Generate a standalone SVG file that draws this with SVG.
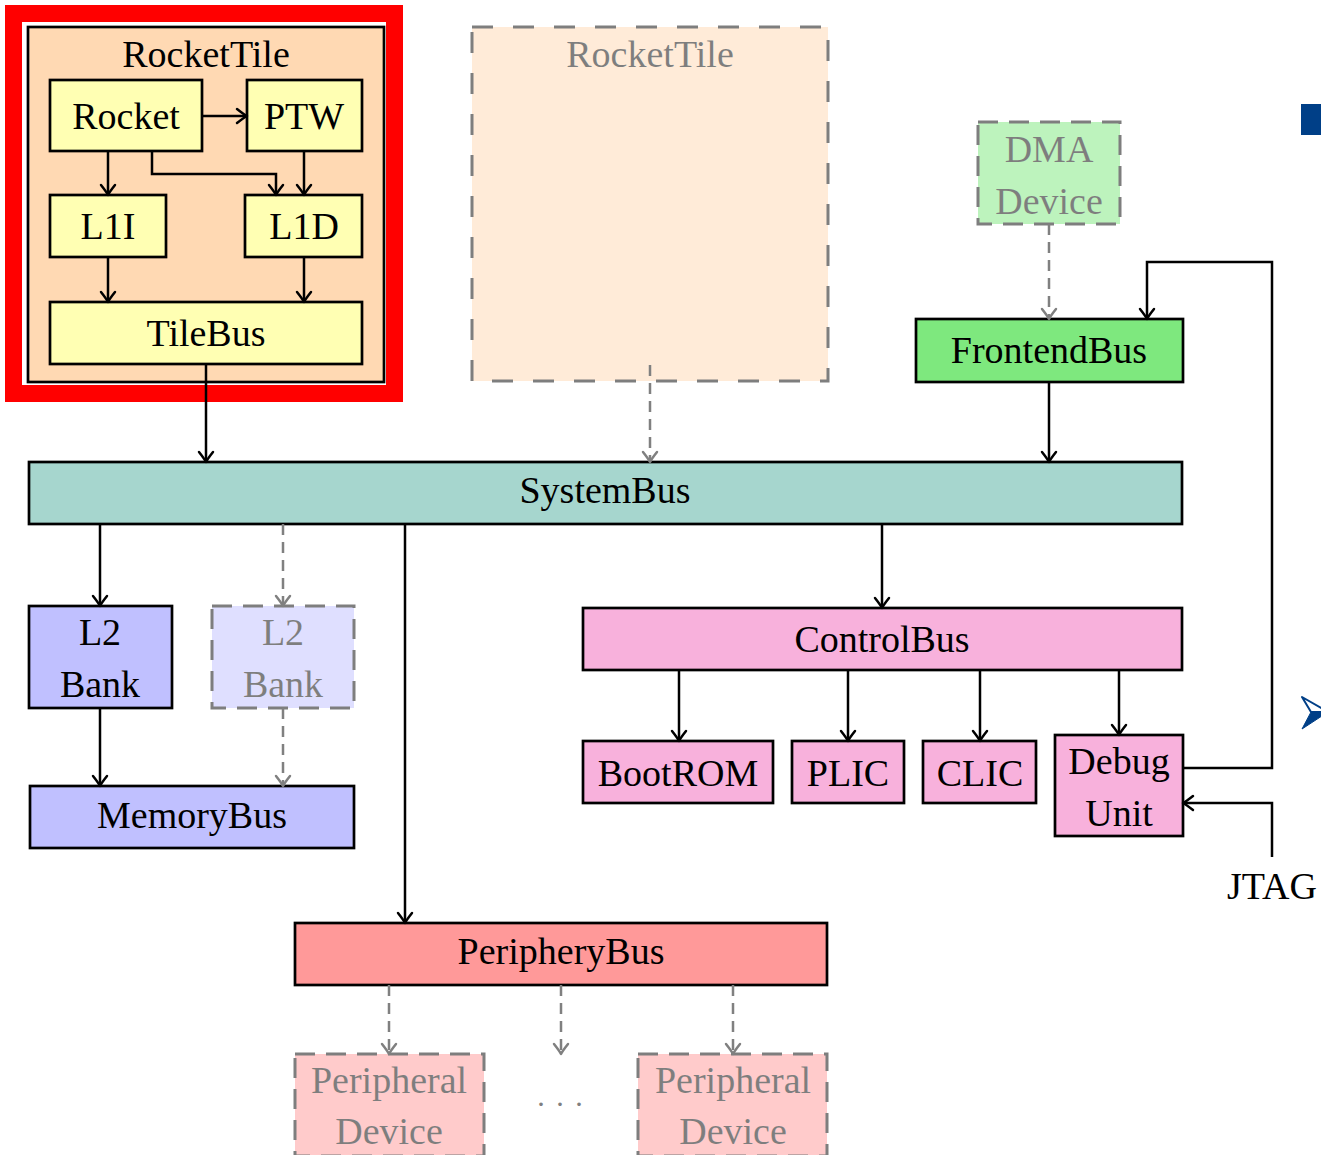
<svg xmlns="http://www.w3.org/2000/svg" width="1321" height="1155" viewBox="0 0 1321 1155">
<style>
.box{stroke:#000;stroke-width:2.7}
.gbox{stroke:#000;stroke-width:3;stroke-dasharray:20 11}
.ghost{opacity:0.5}
.t{font-family:"Liberation Serif","DejaVu Serif",serif;font-size:38px;text-anchor:middle;fill:#000}
.c{stroke:#000;stroke-width:2.5;fill:none;marker-end:url(#ah)}
.cd{stroke:#808080;stroke-width:2.5;fill:none;stroke-dasharray:11 7;marker-end:url(#ahg)}
.yel{fill:#FFFFB3}
</style>
<defs>
<marker id="ah" markerUnits="userSpaceOnUse" markerWidth="24" markerHeight="24" viewBox="-12 -12 24 24" refX="0" refY="0" orient="auto" overflow="visible">
<path d="M-10,-7 Q-3,-1.5 0,0 Q-3,1.5 -10,7" fill="none" stroke="#000" stroke-width="2.5" stroke-linecap="round" stroke-linejoin="round"/>
</marker>
<marker id="ahg" markerUnits="userSpaceOnUse" markerWidth="24" markerHeight="24" viewBox="-12 -12 24 24" refX="0" refY="0" orient="auto" overflow="visible">
<path d="M-10,-7 Q-3,-1.5 0,0 Q-3,1.5 -10,7" fill="none" stroke="#808080" stroke-width="2.5" stroke-linecap="round" stroke-linejoin="round"/>
</marker>
</defs>
<rect width="1321" height="1155" fill="#fff"/>

<!-- highlight frame -->
<rect x="13.5" y="13.5" width="381" height="380" fill="none" stroke="#FF0000" stroke-width="17"/>

<!-- slide decorations -->
<rect x="1301" y="104" width="20" height="31" fill="#003F87"/>
<polygon points="1302,697 1328,712 1311,712" fill="#fff" stroke="#003F87" stroke-width="2" stroke-linejoin="round"/>
<polygon points="1311,712 1328,712 1302,729" fill="#003F87" stroke="#003F87" stroke-width="1" stroke-linejoin="round"/>

<g id="rockettile">
<rect class="box" x="28" y="27" width="356" height="355" fill="#FFD9B3"/>
<text class="t" x="206" y="67">RocketTile</text>
</g>
<g id="rocket"><rect class="box yel" x="50" y="80" width="152" height="71"/><text class="t" x="126" y="129">Rocket</text></g>
<g id="ptw"><rect class="box yel" x="247" y="80" width="115" height="71"/><text class="t" x="304" y="129">PTW</text></g>
<g id="l1i"><rect class="box yel" x="50" y="195" width="116" height="62"/><text class="t" x="108" y="239">L1I</text></g>
<g id="l1d"><rect class="box yel" x="245" y="195" width="117" height="62"/><text class="t" x="304" y="239">L1D</text></g>
<g id="tilebus"><rect class="box yel" x="50" y="302" width="312" height="62"/><text class="t" x="206" y="346">TileBus</text></g>

<g id="rockettile2" class="ghost">
<rect x="472" y="27" width="356" height="354" fill="#FFD9B3" stroke="#000" stroke-width="3" stroke-dasharray="21 20"/>
<text class="t" x="650" y="67">RocketTile</text>
</g>

<g id="dma" class="ghost">
<rect class="gbox" x="978" y="122" width="142" height="102" fill="#7EE87E"/>
<text class="t" x="1049" y="162">DMA</text>
<text class="t" x="1049" y="214">Device</text>
</g>
<g id="frontendbus"><rect class="box" x="916" y="319" width="267" height="63" fill="#7EE87E"/><text class="t" x="1049" y="363">FrontendBus</text></g>

<g id="systembus"><rect class="box" x="29" y="462" width="1153" height="62" fill="#A6D6CE"/><text class="t" x="605" y="503">SystemBus</text></g>

<g id="l2bank"><rect class="box" x="29" y="606" width="143" height="102" fill="#C0C0FF"/><text class="t" x="100" y="645">L2</text><text class="t" x="100" y="697">Bank</text></g>
<g id="l2bank2" class="ghost"><rect class="gbox" x="212" y="606" width="142" height="102" fill="#C0C0FF"/><text class="t" x="283" y="645">L2</text><text class="t" x="283" y="697">Bank</text></g>
<g id="memorybus"><rect class="box" x="30" y="786" width="324" height="62" fill="#C0C0FF"/><text class="t" x="192" y="828">MemoryBus</text></g>

<g id="controlbus"><rect class="box" x="583" y="608" width="599" height="62" fill="#F8B1DC"/><text class="t" x="882" y="652">ControlBus</text></g>
<g id="bootrom"><rect class="box" x="583" y="741" width="190" height="62" fill="#F8B1DC"/><text class="t" x="678" y="786">BootROM</text></g>
<g id="plic"><rect class="box" x="792" y="741" width="112" height="62" fill="#F8B1DC"/><text class="t" x="848" y="786">PLIC</text></g>
<g id="clic"><rect class="box" x="923" y="741" width="113" height="62" fill="#F8B1DC"/><text class="t" x="980" y="786">CLIC</text></g>
<g id="debugunit"><rect class="box" x="1055" y="735" width="128" height="101" fill="#F8B1DC"/><text class="t" x="1119" y="774">Debug</text><text class="t" x="1119" y="826">Unit</text></g>

<g id="jtag"><text class="t" x="1272" y="899">JTAG</text></g>

<g id="peripherybus"><rect class="box" x="295" y="923" width="532" height="62" fill="#FF9999"/><text class="t" x="561" y="964">PeripheryBus</text></g>

<g id="periph1" class="ghost"><rect class="gbox" x="295" y="1054" width="189" height="102" fill="#FF9999"/><text class="t" x="389" y="1093">Peripheral</text><text class="t" x="389" y="1144">Device</text></g>
<g id="periph2" class="ghost"><rect class="gbox" x="638" y="1054" width="189" height="102" fill="#FF9999"/><text class="t" x="733" y="1093">Peripheral</text><text class="t" x="733" y="1144">Device</text></g>
<g id="dots"><text class="t" x="561" y="1106" style="fill:#808080;font-size:30px;letter-spacing:2px">. . .</text></g>

<g id="connectors">
<line class="c" x1="202" y1="116" x2="247" y2="116"/>
<line class="c" x1="108" y1="151" x2="108" y2="195"/>
<path class="c" d="M152,151 V174 H276 V195"/>
<line class="c" x1="304" y1="151" x2="304" y2="195"/>
<line class="c" x1="108" y1="257" x2="108" y2="302"/>
<line class="c" x1="304" y1="257" x2="304" y2="302"/>
<line class="c" x1="206" y1="364" x2="206" y2="462"/>
<line class="cd" x1="650" y1="365" x2="650" y2="462"/>
<line class="cd" x1="1049" y1="224" x2="1049" y2="319"/>
<line class="c" x1="1049" y1="382" x2="1049" y2="462"/>
<path class="c" d="M1183,768 H1272 V262 H1147 V319"/>
<path class="c" d="M1272,857 V803 H1183"/>
<line class="c" x1="100" y1="524" x2="100" y2="606"/>
<line class="c" x1="100" y1="708" x2="100" y2="786"/>
<line class="cd" x1="283" y1="524" x2="283" y2="606"/>
<line class="cd" x1="283" y1="708" x2="283" y2="786"/>
<line class="c" x1="405" y1="524" x2="405" y2="923"/>
<line class="c" x1="882" y1="524" x2="882" y2="608"/>
<line class="c" x1="679" y1="670" x2="679" y2="741"/>
<line class="c" x1="848" y1="670" x2="848" y2="741"/>
<line class="c" x1="980" y1="670" x2="980" y2="741"/>
<line class="c" x1="1119" y1="670" x2="1119" y2="735"/>
<line class="cd" x1="389" y1="985" x2="389" y2="1054"/>
<line class="cd" x1="561" y1="985" x2="561" y2="1054"/>
<line class="cd" x1="733" y1="985" x2="733" y2="1054"/>
</g>
</svg>
